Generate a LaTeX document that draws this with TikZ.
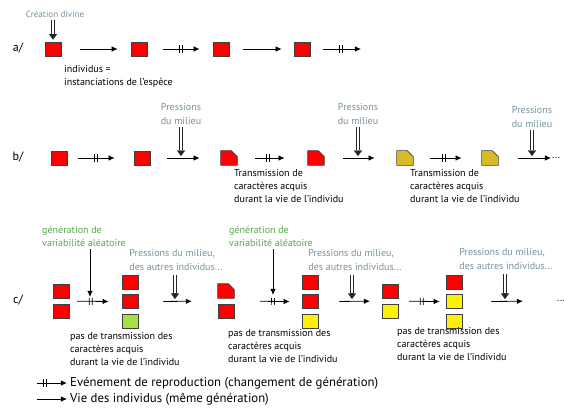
\documentclass[tikz,border=0pt]{standalone}
\usepackage{fontspec}
\setmainfont{PT Sans}
\usepackage{xcolor}
\usetikzlibrary{positioning,calc,arrows.meta,decorations.markings}
\definecolor{indivred}{RGB}{255,0,0}
\definecolor{indivolive}{RGB}{214,186,40}
\definecolor{indivyellow}{RGB}{255,242,0}
\definecolor{indivgreen}{RGB}{168,224,72}
\definecolor{pressgray}{RGB}{118,145,158}
\definecolor{varigreen}{RGB}{84,168,72}
% individu dont un caractere a ete modifie (coin coupe)
\newcommand{\cutindiv}[2]{\filldraw[cutbox,fill=#2] (#1.south west) -- (#1.north west) -- ([xshift=-6pt]#1.north east) -- ([yshift=-6pt]#1.north east) -- (#1.south east) -- cycle;}

\begin{document}
\begin{tikzpicture}[x=0.035cm,y=-0.035cm,
  indiv/.style={rectangle,draw=black!75,line width=0.6pt,fill=indivred,minimum width=16pt,minimum height=14pt,inner sep=0pt},
  cutspot/.style={indiv,draw=none,fill=none},
  cutbox/.style={draw=black!75,line width=0.6pt,line join=miter},
  rowlab/.style={font=\fontsize{12}{14}\selectfont,inner sep=0pt},
  note/.style={align=left,anchor=west,inner sep=0pt,font=\fontsize{10}{13}\selectfont},
  legnote/.style={note,font=\fontsize{12.7}{15}\selectfont},
  pressnote/.style={align=center,inner sep=0pt,text=pressgray,font=\fontsize{10}{14}\selectfont},
  varinote/.style={note,text=varigreen},
  life/.style={draw,line width=0.8pt,-{Latex[length=6pt,width=5.5pt]}},
  repro/.style={life,postaction={decorate},decoration={markings,mark=at position #1 with {\draw[line width=0.7pt,-,shorten <=0pt,shorten >=0pt] (-1.5pt,-3.5pt) -- (-1.5pt,3.5pt) (1.5pt,-3.5pt) -- (1.5pt,3.5pt);}}},
  repro/.default=0.5,
  press/.style={draw=black!85,line width=3.2pt,shorten >=2pt,-{Triangle[length=5.5pt,width=8pt,line width=0.1pt]},postaction={draw=white,line width=1.1pt,-,shorten >=7.8pt}}
]
\useasboundingbox (0,0) rectangle (564,414);
% a/ : individus identiques
\node[rowlab] (la) at (18,48) {a/};
\node[indiv] (a1) at (53,49) {};
\node[indiv] (a2) at (139,49) {};
\node[indiv] (a3) at (221,49) {};
\node[indiv] (a4) at (302,49) {};
\coordinate (a5) at (361,49);
\node[pressnote,font=\fontsize{9}{12}\selectfont] (cre) at (55,14) {Création divine};
\node[note] (ind) at (64,76) {individus =\\instanciations de l'espèce};
\draw[press,shorten <=2pt] (cre.south -| a1) -- (a1.north);
\draw[life,shorten <=19pt,shorten >=13pt] (a1) -- (a2); \draw[repro=0.52,shorten <=16pt,shorten >=13pt] (a2) -- (a3);
\draw[life,shorten <=14pt,shorten >=12pt] (a3) -- (a4); \draw[repro=0.61,shorten <=13pt] (a4) -- (a5);
% b/ : transmission des caracteres acquis
\node[rowlab] (lb) at (18,157) {b/};
\node[indiv] (b1) at (59,158) {};
\node[indiv] (b2) at (142,158) {};
\node[cutspot] (b3) at (229,158) {}; \cutindiv{b3}{indivred}
\node[cutspot] (b4) at (316,158) {}; \cutindiv{b4}{indivred}
\node[cutspot] (b5) at (405,158) {}; \cutindiv{b5}{indivolive}
\node[cutspot] (b6) at (490,158) {}; \cutindiv{b6}{indivolive}
\node[note] (bd) at (552,158) {...};
\draw[repro=0.43,shorten <=11pt,shorten >=19pt] (b1) -- (b2); \draw[life,shorten <=17pt,shorten >=21pt] (b2) -- (b3);
\draw[repro=0.44,shorten <=18pt,shorten >=23pt] (b3) -- (b4); \draw[life,shorten <=19pt,shorten >=22pt] (b4) -- (b5);
\draw[repro=0.44,shorten <=17pt,shorten >=20pt] (b5) -- (b6); \draw[life,shorten <=20pt,shorten >=1pt] (b6) -- (bd);
\node[pressnote] (pb1) at (181,114) {Pressions\\du milieu};
\node[pressnote] (pb2) at (358,114) {Pressions\\du milieu};
\node[pressnote] (pb3) at (532,117) {Pressions\\du milieu};
\coordinate (tb1) at (181,158); \coordinate (tb2) at (358,158); \coordinate (tb3) at (532,158);
\draw[press,shorten <=2pt] (pb1) -- (tb1); \draw[press,shorten <=2pt] (pb2) -- (tb2); \draw[press,shorten <=2pt] (pb3) -- (tb3);
\node[note] (tr1) at (234,186) {Transmission de\\caractères acquis\\durant la vie de l'individu};
\node[note] (tr2) at (410,186) {Transmission de\\caractères acquis\\durant la vie de l'individu};
% c/ : variabilite aleatoire et selection
\node[rowlab] (lc) at (18,300) {c/};
\coordinate (c1) at (61,301);
\node[indiv] (c1a) at (61,291) {};
\node[indiv,below=6pt of c1a] (c1b) {};
\node[indiv] (c2a) at (130,282) {};
\node[indiv,below=5pt of c2a] (c2b) {};
\node[indiv,fill=indivgreen,below=5pt of c2b] (c2c) {};
\coordinate (c3) at (226,301);
\node[cutspot] (c3a) at (226,291) {}; \cutindiv{c3a}{indivred}
\node[indiv,below=6pt of c3a] (c3b) {};
\node[indiv] (c4a) at (310,282) {};
\node[indiv,below=5pt of c4a] (c4b) {};
\node[indiv,fill=indivyellow,below=5pt of c4b] (c4c) {};
\coordinate (c5) at (390,301);
\node[indiv] (c5a) at (390,291) {};
\node[indiv,fill=indivyellow,below=6pt of c5a] (c5b) {};
\node[indiv] (c6a) at (454,282) {};
\node[indiv,fill=indivyellow,below=5pt of c6a] (c6b) {};
\node[indiv,fill=indivyellow,below=5pt of c6b] (c6c) {};
\node[note] (cd) at (557,301) {...};
\draw[repro=0.49,shorten <=16pt,shorten >=13pt] (c1) -- (c2b); \draw[life,shorten <=25pt,shorten >=34pt] (c2b) -- (c3);
\draw[repro=0.62,shorten <=34pt,shorten >=12pt] (c3) -- (c4b); \draw[life,shorten <=21pt,shorten >=20pt] (c4b) -- (c5);
\draw[repro=0.57,shorten <=19pt,shorten >=6pt] (c5) -- (c6b); \draw[life,shorten <=29pt,shorten >=34pt] (c6b) -- (cd);
\node[varinote] (v1) at (42,236) {génération de\\variabilité aléatoire};
\node[varinote] (v2) at (229,236) {génération de\\variabilité aléatoire};
\coordinate (tv1) at (90,301); \coordinate (tv2) at (273,301);
\draw[life,shorten <=3pt,shorten >=4pt] (v1.south -| tv1) -- (tv1); \draw[life,shorten <=3pt,shorten >=6pt] (v2.south -| tv2) -- (tv2);
\node[pressnote,align=left] (pc1) at (176,260) {Pressions du milieu,\\des autres individus...};
\node[pressnote,align=left] (pc2) at (355,260) {Pressions du milieu,\\des autres individus...};
\node[pressnote,align=left] (pc3) at (506,259) {Pressions du milieu,\\des autres individus...};
\coordinate (tc1) at (175,301); \coordinate (tc2) at (352,301); \coordinate (tc3) at (505,301);
\draw[press,shorten <=4pt] (pc1.south -| tc1) -- (tc1); \draw[press,shorten <=4pt] (pc2.south -| tc2) -- (tc2); \draw[press,shorten <=4pt] (pc3.south -| tc3) -- (tc3);
\node[note] (nt1) at (70,349) {pas de transmission des\\caractères acquis\\durant la vie de l'individu};
\node[note] (nt2) at (228,346) {pas de transmission des\\caractères acquis\\durant la vie de l'individu};
\node[note] (nt3) at (397,344) {pas de transmission des\\caractères acquis\\durant la vie de l'individu};
% legende
\coordinate (lg1) at (37,383); \coordinate (lg2) at (37,399);
\node[legnote] (lgt1) at (70,383) {Evénement de reproduction (changement de génération)};
\node[legnote] (lgt2) at (70,399) {Vie des individus (même génération)};
\draw[repro=0.24,shorten >=3pt] (lg1) -- (lgt1); \draw[life,shorten >=3pt] (lg2) -- (lgt2);
\end{tikzpicture}
\end{document}
